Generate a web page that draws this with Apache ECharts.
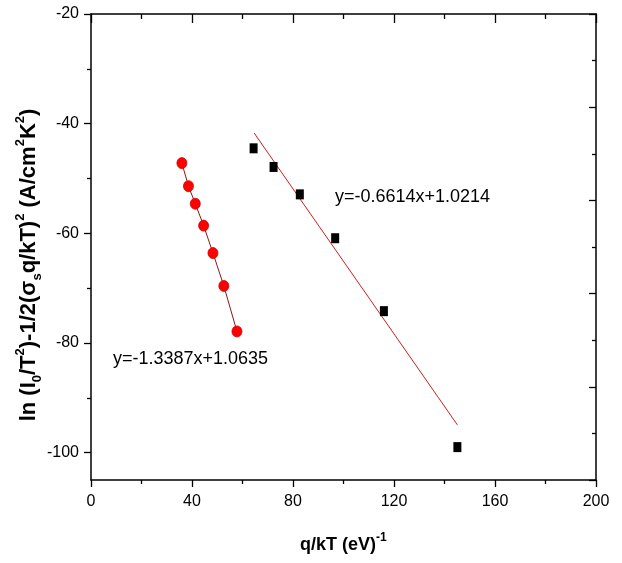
<!DOCTYPE html>
<html>
<head>
<meta charset="utf-8">
<script src="https://cdn.jsdelivr.net/npm/echarts@6/dist/echarts.min.js"></script>
<style>
  html, body { margin: 0; padding: 0; background: #fff; }
  #chart { width: 622px; height: 563px; }
</style>
</head>
<body>
<div id="chart"></div>
<script>
// Richardson-type plot: two sample sets against q/kT
const circleX = [36.0, 38.6, 41.3, 44.6, 48.3, 52.6, 57.8];
const circleY = [-47.2, -51.4, -54.6, -58.6, -63.6, -69.6, -77.9];

const squareX = [64.4, 72.3, 82.7, 96.7, 116.0, 145.1];
const squareY = [-44.5, -47.9, -52.9, -60.9, -74.2, -99.0];

// linear fit for the square series, as printed next to it
const fitSlope = -0.6614;
const fitIntercept = 1.0214;
const fitRangeX = [64.6, 145.1];

const xTicks = [0, 40, 80, 120, 160, 200];
const yMajorTicks = [-100, -80, -60, -40, -20];
const yMinorTicks = [-90, -70, -50, -30];

const eqSquares = 'y=-0.6614x+1.0214';
const eqCircles = 'y=-1.3387x+1.0635';

const circlePts = circleX.map((x, i) => [x, circleY[i]]);
const squarePts = squareX.map((x, i) => [x, squareY[i]]);
const fitPts = fitRangeX.map(x => [x, fitSlope * x + fitIntercept]);

const FONT = '"Liberation Sans", Arial, sans-serif';
const axisLineStyle = { color: '#000', width: 1.5 };
const tickLine = { color: '#000', width: 1.3 };

const chart = echarts.init(document.getElementById('chart'), null, { renderer: 'canvas' });

chart.setOption({
  animation: false,
  backgroundColor: '#fff',
  grid: { left: 91, right: 26, top: 14, bottom: 83, containLabel: false },
  xAxis: [
    {
      type: 'value', position: 'bottom', min: xTicks[0], max: xTicks[xTicks.length - 1], interval: 40,
      axisLine: { show: true, onZero: false, lineStyle: axisLineStyle },
      axisTick: { show: true, inside: false, length: 7, lineStyle: tickLine },
      minorTick: { show: true, splitNumber: 2, length: 4, lineStyle: tickLine },
      splitLine: { show: false },
      axisLabel: { show: true, color: '#000', fontSize: 16, fontFamily: FONT, margin: 14 }
    },
    {
      type: 'value', position: 'top', min: xTicks[0], max: xTicks[xTicks.length - 1], interval: 40,
      axisLine: { show: true, onZero: false, lineStyle: axisLineStyle },
      axisTick: { show: true, inside: true, length: 9, lineStyle: tickLine },
      minorTick: { show: true, splitNumber: 2, length: 5, lineStyle: tickLine },
      splitLine: { show: false },
      axisLabel: { show: false }
    }
  ],
  yAxis: [
    {
      type: 'value', position: 'left', min: -105, max: -20,
      axisLine: { show: true, onZero: false, lineStyle: axisLineStyle },
      axisTick: { show: true, inside: false, length: 7, customValues: yMajorTicks, lineStyle: tickLine },
      splitLine: { show: false },
      axisLabel: { show: true, customValues: yMajorTicks, color: '#000', fontSize: 16, fontFamily: FONT, margin: 12 }
    },
    {
      type: 'value', position: 'left', offset: 0, min: -105, max: -20,
      axisLine: { show: false },
      axisTick: { show: true, inside: false, length: 4, customValues: yMinorTicks, lineStyle: tickLine },
      splitLine: { show: false },
      axisLabel: { show: false }
    },
    {
      type: 'value', position: 'right', min: 0, max: 10, interval: 2,
      axisLine: { show: true, onZero: false, lineStyle: axisLineStyle },
      axisTick: { show: true, inside: true, length: 7, lineStyle: tickLine },
      minorTick: { show: true, splitNumber: 2, length: 4, lineStyle: tickLine },
      splitLine: { show: false },
      axisLabel: { show: false }
    }
  ],
  series: [
    {
      name: 'fit', type: 'line', xAxisIndex: 0, yAxisIndex: 0,
      data: fitPts, symbol: 'none', silent: true,
      lineStyle: { color: '#cc2020', width: 1 }, z: 2
    },
    {
      name: 'squares', type: 'scatter', xAxisIndex: 0, yAxisIndex: 0,
      data: squarePts, symbol: 'rect', symbolSize: [8, 10],
      itemStyle: { color: '#000', opacity: 1 }, z: 3
    },
    {
      name: 'circles', type: 'line', xAxisIndex: 0, yAxisIndex: 0,
      data: circlePts, symbol: 'circle', symbolSize: [10, 11], showSymbol: true,
      lineStyle: { color: '#8a1818', width: 1 },
      itemStyle: { color: '#ff0000', borderColor: '#d40000', borderWidth: 0.8, opacity: 1 }, z: 3
    }
  ],
  graphic: [
    {
      type: 'text', left: 335, top: 188, silent: true,
      style: { text: eqSquares, fill: '#000', font: '18px ' + FONT }
    },
    {
      type: 'text', left: 113, top: 350, silent: true,
      style: { text: eqCircles, fill: '#000', font: '18px ' + FONT }
    },
    {
      type: 'text', x: 300, y: 545, silent: true,
      style: {
        text: '{m|q/kT (eV)}{sp|-1}',
        verticalAlign: 'middle', align: 'left',
        rich: {
          m: { fontSize: 18, fontWeight: 'bold', fontFamily: FONT, fill: '#000', lineHeight: 26, verticalAlign: 'middle' },
          sp: { fontSize: 12, fontWeight: 'bold', fontFamily: FONT, fill: '#000', lineHeight: 26, verticalAlign: 'top' }
        }
      }
    },
    {
      type: 'text', x: 29, y: 265, rotation: Math.PI / 2, silent: true,
      style: {
        text: '{m|ln (I}{sb|0}{m|/T}{sp|2}{m|)-1/2(σ}{sb|s}{m|q/kT)}{sp|2}{m| (A/cm}{sp|2}{m|K}{sp|2}{m|)}',
        align: 'center', verticalAlign: 'middle',
        rich: {
          m: { fontSize: 22, fontWeight: 'bold', fontFamily: FONT, fill: '#000', lineHeight: 30, verticalAlign: 'middle' },
          sp: { fontSize: 13, fontWeight: 'bold', fontFamily: FONT, fill: '#000', lineHeight: 30, verticalAlign: 'top' },
          sb: { fontSize: 13, fontWeight: 'bold', fontFamily: FONT, fill: '#000', lineHeight: 30, verticalAlign: 'bottom' }
        }
      }
    }
  ]
});
</script>
</body>
</html>
